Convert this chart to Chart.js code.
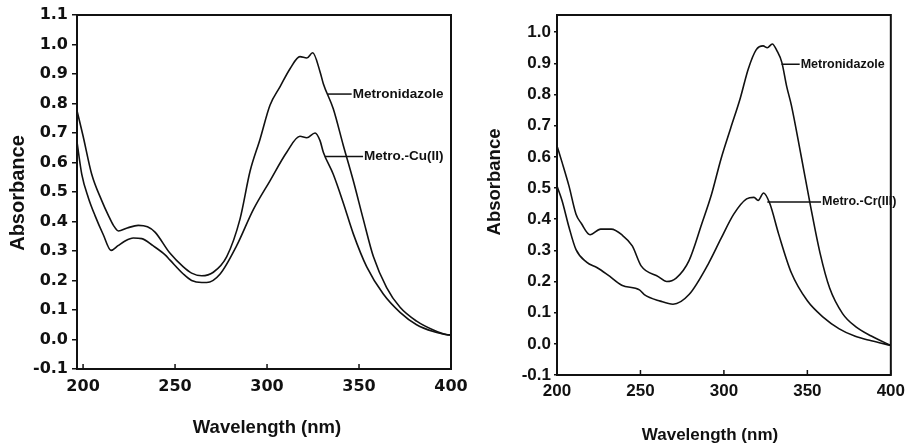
<!DOCTYPE html>
<html>
<head>
<meta charset="utf-8">
<title>Metronidazole UV-Vis spectra</title>
<script src="https://cdn.jsdelivr.net/npm/chart.js@4.4.0/dist/chart.umd.min.js"></script>
<style>
  body { margin: 0; background: #fff; }
  #wrap { position: relative; width: 911px; height: 446px; overflow: hidden; }
  canvas { position: absolute; top: 0; }
  #cuChart { left: 0; }
  #crChart { left: 460px; }
</style>
</head>
<body>
<div id="wrap">
  <canvas id="cuChart" width="480" height="446"></canvas>
  <canvas id="crChart" width="451" height="446"></canvas>
</div>
<script>
// ---- left panel: free ligand vs Cu(II) complex ----
const cuMetroNm  = [196.7, 200, 204.7, 210.2, 213.8, 216.5, 219.2, 224, 230, 235, 239.1, 247.3, 254.5, 259, 264.5, 270.8, 278.1, 285.3, 290.8, 296.2, 301.6, 307.1, 312.5, 317.9, 321.6, 324.8, 328.8, 330.6, 336, 341.5, 346.9, 352.3, 357.8, 365, 372.3, 381.3, 390.4, 397.6, 400];
const cuMetroAbs = [0.776, 0.69, 0.56, 0.47, 0.42, 0.387, 0.368, 0.378, 0.387, 0.382, 0.364, 0.292, 0.246, 0.225, 0.216, 0.228, 0.281, 0.408, 0.571, 0.679, 0.794, 0.857, 0.918, 0.959, 0.954, 0.972, 0.908, 0.867, 0.782, 0.657, 0.538, 0.408, 0.281, 0.176, 0.109, 0.062, 0.032, 0.016, 0.015];

const cuComplexNm  = [196.7, 199.3, 202.9, 206.5, 211, 215.2, 219, 222.8, 227.3, 231.9, 238, 244.6, 247.3, 254.5, 259, 264.5, 267.2, 274.5, 283.5, 292.6, 301.6, 310.7, 317.9, 321.6, 326.1, 328.8, 330.6, 336, 341.5, 346.9, 354.2, 363.2, 372.3, 381.3, 390.4, 397.6, 400];
const cuComplexAbs = [0.67, 0.56, 0.48, 0.42, 0.355, 0.302, 0.318, 0.334, 0.344, 0.342, 0.318, 0.287, 0.269, 0.222, 0.2, 0.193, 0.193, 0.222, 0.318, 0.441, 0.538, 0.635, 0.689, 0.684, 0.70, 0.674, 0.635, 0.56, 0.462, 0.358, 0.246, 0.154, 0.092, 0.05, 0.027, 0.017, 0.015];

// ---- right panel: free ligand vs Cr(III) complex ----
const crMetroNm  = [200, 203, 207.2, 211.4, 214.6, 219.8, 226.1, 232.5, 238.8, 245.1, 250.4, 260.9, 265.7, 271.4, 279.1, 286.8, 292.5, 298.3, 304, 309.8, 314.6, 319.4, 323.5, 326, 329, 331.8, 334.7, 337.6, 340.4, 346.2, 351.9, 357.6, 363.4, 371.1, 378.7, 388.3, 400];
const crMetroAbs = [0.635, 0.583, 0.506, 0.416, 0.386, 0.35, 0.368, 0.368, 0.35, 0.314, 0.25, 0.215, 0.2, 0.211, 0.267, 0.386, 0.478, 0.594, 0.691, 0.788, 0.882, 0.944, 0.956, 0.95, 0.962, 0.94, 0.903, 0.826, 0.766, 0.605, 0.442, 0.291, 0.178, 0.097, 0.056, 0.025, -0.005];

const crComplexNm  = [200, 203, 207.2, 211.4, 217.7, 224.1, 230.4, 238.8, 249.4, 252.3, 261.9, 269.5, 279.1, 290.6, 298.3, 305.9, 313.6, 318, 320.5, 323.8, 327.5, 332.8, 340.4, 350, 359.6, 369.1, 378.7, 388.3, 400];
const crComplexAbs = [0.506, 0.46, 0.374, 0.302, 0.262, 0.244, 0.221, 0.188, 0.173, 0.158, 0.137, 0.127, 0.158, 0.256, 0.338, 0.416, 0.465, 0.47, 0.46, 0.484, 0.45, 0.352, 0.228, 0.138, 0.085, 0.048, 0.024, 0.01, -0.005];

const xTicks   = [200, 250, 300, 350, 400];
const cuYTicks = [-0.1, 0.0, 0.1, 0.2, 0.3, 0.4, 0.5, 0.6, 0.7, 0.8, 0.9, 1.0, 1.1];
const crYTicks = [-0.1, 0.0, 0.1, 0.2, 0.3, 0.4, 0.5, 0.6, 0.7, 0.8, 0.9, 1.0];

function pairs(xs, ys) {
  return xs.map((x, i) => ({ x: x, y: ys[i] }));
}

// box around the plot area
const framePlugin = {
  id: 'frame',
  afterDatasetsDraw(chart) {
    const a = chart.chartArea, ctx = chart.ctx;
    ctx.save();
    ctx.strokeStyle = '#111';
    ctx.lineWidth = 2;
    ctx.strokeRect(a.left, a.top, a.right - a.left, a.bottom - a.top);
    // x ticks point inward
    const xs = chart.scales.x;
    ctx.lineWidth = 1.5;
    xs.ticks.forEach(t => {
      const px = xs.getPixelForValue(t.value);
      ctx.beginPath();
      ctx.moveTo(px, a.bottom);
      ctx.lineTo(px, a.bottom - 5);
      ctx.stroke();
    });
    ctx.restore();
  }
};

// curve names with a short leader line
const notesPlugin = {
  id: 'curveNotes',
  afterDraw(chart, args, opts) {
    const ctx = chart.ctx, xs = chart.scales.x, ys = chart.scales.y;
    ctx.save();
    ctx.strokeStyle = '#111';
    ctx.fillStyle = '#111';
    ctx.lineWidth = 1.5;
    ctx.font = opts.font;
    ctx.textBaseline = 'middle';
    (opts.items || []).forEach(n => {
      const x1 = xs.getPixelForValue(n.from), x2 = xs.getPixelForValue(n.to);
      const y = ys.getPixelForValue(n.at);
      ctx.beginPath();
      ctx.moveTo(x1, y);
      ctx.lineTo(x2, y);
      ctx.stroke();
      ctx.fillText(n.text, x2 + 1, y);
    });
    ctx.restore();
  }
};

// axis titles placed by hand so they sit where the scan has them
const titlesPlugin = {
  id: 'axisTitles',
  afterDraw(chart, args, opts) {
    const ctx = chart.ctx;
    ctx.save();
    ctx.fillStyle = '#111';
    ctx.textAlign = 'center';
    ctx.textBaseline = 'middle';
    ctx.font = opts.yFont;
    ctx.translate(opts.yPos[0], opts.yPos[1]);
    ctx.rotate(-Math.PI / 2);
    ctx.fillText('Absorbance', 0, 0);
    ctx.restore();
    ctx.save();
    ctx.fillStyle = '#111';
    ctx.textAlign = 'center';
    ctx.textBaseline = 'middle';
    ctx.font = opts.xFont;
    ctx.fillText('Wavelength (nm)', opts.xPos[0], opts.xPos[1]);
    ctx.restore();
  }
};

function makeChart(id, cfg) {
  return new Chart(document.getElementById(id), {
    type: 'line',
    data: {
      datasets: cfg.series.map(s => ({
        label: s.label,
        data: s.data,
        borderColor: '#111',
        borderWidth: 1.6,
        pointRadius: 0,
        fill: false,
        cubicInterpolationMode: 'monotone'
      }))
    },
    options: {
      responsive: false,
      animation: false,
      events: [],
      layout: { padding: cfg.padding },
      plugins: {
        legend: { display: false },
        tooltip: { enabled: false },
        curveNotes: cfg.notes,
        axisTitles: cfg.titles
      },
      scales: {
        x: {
          type: 'linear',
          min: cfg.xMin,
          max: 400,
          afterBuildTicks: s => { s.ticks = xTicks.map(v => ({ value: v })); },
          afterFit: s => { s.height = cfg.xAxisH; },
          grid: { drawOnChartArea: false, drawTicks: false },
          border: { display: false },
          ticks: { font: cfg.tickFont, color: '#111', padding: cfg.xPad, maxRotation: 0 }
        },
        y: {
          min: -0.1,
          max: cfg.yMax,
          afterBuildTicks: s => { s.ticks = cfg.yTicks.map(v => ({ value: v })); },
          afterFit: s => { s.width = cfg.yAxisW; },
          grid: { drawOnChartArea: false, drawTicks: true, tickLength: cfg.tickLen, color: '#111', lineWidth: 1.5 },
          border: { display: false },
          ticks: {
            font: cfg.tickFont, color: '#111', padding: cfg.yPad,
            callback: v => v.toFixed(1)
          }
        }
      }
    },
    plugins: [framePlugin, notesPlugin, titlesPlugin]
  });
}

makeChart('cuChart', {
  series: [
    { label: 'Metronidazole', data: pairs(cuMetroNm, cuMetroAbs) },
    { label: 'Metro.-Cu(II)', data: pairs(cuComplexNm, cuComplexAbs) }
  ],
  xMin: 196.7, yMax: 1.1, yTicks: cuYTicks,
  padding: { top: 15, right: 29, left: 0, bottom: 0 },
  xAxisH: 77, yAxisW: 77, tickLen: 5, yPad: 4, xPad: 8,
  tickFont: { family: 'DejaVu Sans', weight: 'bold', size: 16 },
  notes: {
    font: 'bold 13.5px "Liberation Sans"',
    items: [
      { from: 333.1, to: 346, at: 0.832, text: 'Metronidazole' },
      { from: 331.5, to: 352.2, at: 0.62, text: 'Metro.-Cu(II)' }
    ]
  },
  titles: {
    yFont: 'bold 20px "Liberation Sans"', yPos: [18, 193],
    xFont: 'bold 18.5px "Liberation Sans"', xPos: [267, 428]
  }
});

makeChart('crChart', {
  series: [
    { label: 'Metronidazole', data: pairs(crMetroNm, crMetroAbs) },
    { label: 'Metro.-Cr(III)', data: pairs(crComplexNm, crComplexAbs) }
  ],
  xMin: 200, yMax: 1.055, yTicks: crYTicks,
  padding: { top: 15, right: 14, left: 0, bottom: 0 },
  xAxisH: 71, yAxisW: 97, tickLen: 3, yPad: 3, xPad: 6,
  tickFont: { family: 'Liberation Sans', weight: 'bold', size: 17 },
  notes: {
    font: 'bold 12.5px "Liberation Sans"',
    items: [
      { from: 334.5, to: 345.4, at: 0.897, text: 'Metronidazole' },
      { from: 326, to: 358.2, at: 0.455, text: 'Metro.-Cr(III)' }
    ]
  },
  titles: {
    yFont: 'bold 18.5px "Liberation Sans"', yPos: [35, 182],
    xFont: 'bold 17px "Liberation Sans"', xPos: [250, 435]
  }
});
</script>
</body>
</html>
